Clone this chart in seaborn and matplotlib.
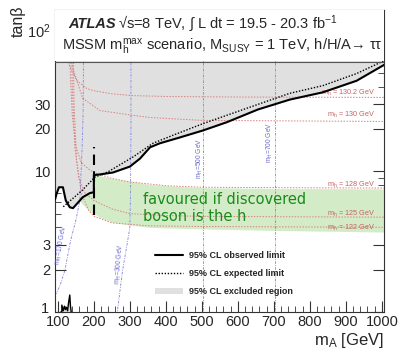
import numpy as np
import matplotlib
matplotlib.use("Agg")
import matplotlib.pyplot as plt
import matplotlib.transforms as mtransforms
import seaborn as sns
import pandas as pd
from matplotlib.lines import Line2D
from matplotlib.patches import Patch, Rectangle

# ---------------- data ----------------
m_obs = [92, 97, 103, 114, 122, 133, 142, 161, 169, 189, 200, 200, 217, 253, 300, 328,
         356, 383, 439, 503, 569, 656, 744, 836, 930, 1006]
tb_obs = [6.3, 7.0, 7.7, 7.7, 6.2, 5.55, 5.47, 6.2, 6.54, 7.0, 7.1, 9.4, 9.5, 9.8, 10.8,
          12.3, 14.8, 15.8, 17.4, 19.5, 22.3, 27.5, 32.3, 36.4, 44.0, 57.0]

m_exp = [115, 167, 203, 239, 308, 364, 419, 503, 656, 744, 836, 930, 1006]
tb_exp = [5.6, 7.3, 9.1, 9.9, 12.6, 15.8, 18.0, 21.8, 29.9, 35.8, 40.6, 49.5, 61.0]

m_low = [108, 111, 111, 115, 118, 121, 124, 127, 130, 133, 135, 137]
tb_low = [1.0, 1.0, 1.12, 1.02, 1.1, 1.04, 1.08, 1.02, 1.18, 1.32, 1.1, 1.0]

m_green = [158, 169, 189, 200, 200.5, 217, 250, 300, 350, 400, 500, 700, 1006]
green_lo = [6.3, 5.8, 5.2, 5.0, 5.0, 4.7, 4.35, 4.15, 4.0, 3.95, 3.9, 3.8, 3.7]
green_hi = [6.3, 6.54, 7.0, 7.1, 9.4, 9.3, 8.9, 8.5, 8.1, 7.9, 7.65, 7.55, 7.5]

mh_labels = ["130.2", "130", "128", "125", "122"]
mh_m = [
    [111, 113, 118, 128, 153, 180, 197, 250, 308, 400, 600, 1006],
    [118, 125, 142, 169, 217, 308, 356, 500, 1006],
    [128, 133, 140, 150, 165, 185, 200, 250, 300, 400, 500, 700, 1006],
    [136, 140, 147, 158, 175, 200, 250, 300, 400, 500, 1006],
    [141, 145, 152, 165, 185, 200, 250, 350, 500, 1006],
]
mh_tb = [
    [140, 100, 75, 59.5, 44, 38.8, 37.5, 35.5, 34.5, 34.0, 33.7, 33.5],
    [140, 90, 53.5, 33, 27, 25, 24.1, 23, 22.6],
    [140, 60, 25, 15, 11.5, 10.4, 9.8, 8.9, 8.4, 7.9, 7.7, 7.65, 7.6],
    [140, 40, 15, 9, 7.0, 6.2, 5.4, 5.0, 4.85, 4.78, 4.72],
    [140, 30, 12, 7, 5.3, 4.8, 4.3, 4.1, 4.05, 4.0],
]
mh_label_tb = [36.3, 25.3, 7.95, 4.95, 3.94]

mH_labels = ["170", "300", "500", "700"]
mH_m = [
    [172, 171, 170, 167, 161, 150, 135, 120, 108, 96],
    [303, 303, 302, 300, 292, 280, 265],
    [503, 503],
    [703, 703],
]
mH_tb = [
    [140, 60, 25, 14, 6.2, 4.5, 3.2, 2.0, 1.6, 1.35],
    [140, 20, 8, 4, 3, 2, 1],
    [140, 1],
    [140, 1],
]
mH_label_pos = [(111, 2.99, 80), (272, 2.19, 85), (494, 12.4, 90), (689, 16.1, 90)]

xticks = [100, 200, 300, 400, 500, 600, 700, 800, 900, 1000]
yticks = [1, 2, 3, 10, 20, 30, 100]
ytick_labels = ["1", "2", "3", "10", "20", "30", "$10^2$"]

# ---------------- style ----------------
sns.set_theme(style="ticks")
plt.rcParams["font.family"] = ["Liberation Sans", "DejaVu Sans"]
plt.rcParams["mathtext.fontset"] = "custom"
plt.rcParams["mathtext.rm"] = "Liberation Sans"
plt.rcParams["mathtext.it"] = "Liberation Sans:italic"
plt.rcParams["mathtext.bf"] = "Liberation Sans:bold"

fig = plt.figure(figsize=(4.03, 3.51), dpi=100)
ax = fig.add_axes([55 / 403, 39 / 351, 329 / 403, 302 / 351])

YMAX = 140
red = "#d98080"
blue = "#8080dd"

ax.set_yscale("log")
ax.set_xlim(92, 1006)
ax.set_ylim(1, YMAX)

# excluded region
ax.fill_between(m_obs, tb_obs, YMAX, color="#e0e0e0", lw=0, zorder=1)
ax.fill_between(m_low, 1, tb_low, color="#e0e0e0", lw=0, zorder=1)
# favoured band
ax.fill_between(m_green, green_lo, green_hi, color="#d3ecc7", lw=0, zorder=1)

# mh contours
for lab, mm, tt, ly in zip(mh_labels, mh_m, mh_tb, mh_label_tb):
    ax.plot(mm, tt, color=red, lw=0.7, ls=(0, (1.5, 1.5)), zorder=2)
    ax.text(980, ly, "m$_{\\mathrm{h}}$ = " + lab + " GeV", color="#c86060",
            fontsize=5.2, ha="right", va="center", zorder=3)

# mH contours
for lab, mm, tt, (lx, ly, rot) in zip(mH_labels, mH_m, mH_tb, mH_label_pos):
    ax.plot(mm, tt, color=blue, lw=0.6, ls=(0, (3, 1.5, 1, 1.5)), zorder=2)
    ax.text(lx, ly, "m$_{\\mathrm{H}}$=" + lab + " GeV", color="#6a6ad0",
            fontsize=4.8, ha="center", va="center", rotation=rot, zorder=3)

# limits
df_obs = pd.DataFrame({"mA": m_obs, "tanb": tb_obs})
df_exp = pd.DataFrame({"mA": m_exp, "tanb": tb_exp})
sns.lineplot(data=df_obs, x="mA", y="tanb", ax=ax, sort=False, estimator=None,
             color="black", lw=1.5, zorder=4)
sns.lineplot(data=df_exp, x="mA", y="tanb", ax=ax, sort=False, estimator=None,
             color="black", lw=1.0, ls=(0, (1, 1.2)), zorder=4)
ax.plot(m_low, tb_low, color="black", lw=1.0, zorder=4)
ax.plot([200, 200], [4.9, 14.8], color="black", lw=1.5, ls=(0, (5, 3)), zorder=4)

# white header box
ax.add_patch(Rectangle((0, 0.831), 1, 0.169, transform=ax.transAxes,
                       facecolor="white", edgecolor="none", zorder=5))
ax.axhline(60, color="#555555", lw=0.8, zorder=6)

ax.text(0.04, 0.955, "ATLAS", transform=ax.transAxes, fontsize=10.5,
        fontweight="bold", fontstyle="italic", ha="left", va="center", zorder=7)
ax.text(0.192, 0.955, "√s=8 TeV, ∫ L dt = 19.5 - 20.3 fb$^{-1}$",
        transform=ax.transAxes, fontsize=10.5, ha="left", va="center", zorder=7)
ax.text(0.021, 0.877,
        "MSSM m$_{\\mathrm{h}}^{\\mathrm{max}}$ scenario, M$_{\\mathrm{SUSY}}$ = 1 TeV, h/H/A→ ττ",
        transform=ax.transAxes, fontsize=10.5, ha="left", va="center", zorder=7)

ax.text(336, 5.5, "favoured if discovered\nboson is the h", color="#1a8a1a",
        fontsize=10.5, family=["DejaVu Sans"], ha="left", va="center",
        linespacing=1.2, zorder=7)

# legend
handles = [Line2D([], [], color="black", lw=1.5),
           Line2D([], [], color="black", lw=1.0, ls=(0, (1, 1.2))),
           Patch(facecolor="#e0e0e0", edgecolor="none")]
labels = ["95% CL observed limit", "95% CL expected limit", "95% CL excluded region"]
leg = ax.legend(handles, labels, loc="upper left", bbox_to_anchor=(0.29, 0.217),
                frameon=False, prop={"size": 6.5, "weight": "bold"}, borderpad=0,
                handlelength=3.1, handletextpad=0.7, labelspacing=1.0)
leg.set_zorder(8)

# axes, ticks
ax.set_xticks(xticks)
ax.set_xticklabels([str(v) for v in xticks])
ax.set_xticks(np.arange(100, 1001, 20), minor=True)
ax.set_yticks(yticks)
ax.set_yticklabels(ytick_labels)
ax.set_yticks([4, 5, 6, 7, 8, 9, 40, 50, 60, 70, 80, 90], minor=True)
ax.yaxis.set_minor_formatter(matplotlib.ticker.NullFormatter())
ax.tick_params(which="both", direction="in", top=True, right=True, labelsize=10.5,
               color="#333333")
ax.tick_params(axis="x", pad=2)
ax.tick_params(axis="y", pad=3)
ax.tick_params(which="major", length=8, width=0.8)
ax.tick_params(which="minor", length=4, width=0.6)
for s in ax.spines.values():
    s.set_color("#333333")
    s.set_linewidth(0.8)
ax.set_xlabel("")
ax.set_ylabel("")

# nudge the "1" label up slightly so it does not collide with "100"
lbl1 = ax.get_yticklabels()[0]
lbl1.set_transform(lbl1.get_transform() +
                   mtransforms.ScaledTranslation(-1 / 72, 3 / 72, fig.dpi_scale_trans))

fig.text(0.045, 0.94, "tanβ", rotation=90, fontsize=11.5, ha="center", va="center")
fig.text(384 / 403, 1 - 340 / 351, "m$_{\\mathrm{A}}$ [GeV]", fontsize=12,
         ha="right", va="center")

fig.savefig("out.png", dpi=100)
